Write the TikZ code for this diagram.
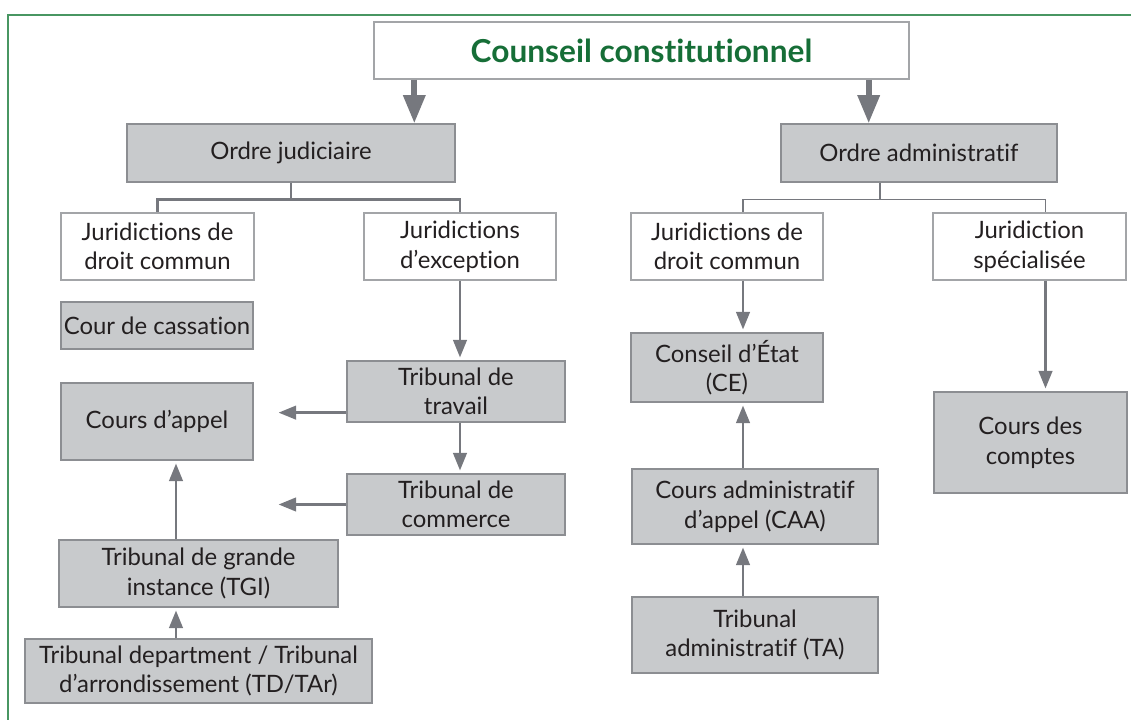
\documentclass[tikz,border=0pt]{standalone}
\usepackage{fontspec}
\setmainfont{Lato}[Ligatures={TeX,NoCommon}]
\usetikzlibrary{arrows.meta,calc}

\definecolor{vertcadre}{RGB}{72,150,98}
\definecolor{verttitre}{RGB}{22,110,55}
\definecolor{grisfond}{RGB}{200,202,204}
\definecolor{grisbord}{RGB}{140,142,146}
\definecolor{grisfleche}{RGB}{118,120,126}
\definecolor{texte}{RGB}{35,31,32}

\begin{document}
\begin{tikzpicture}[x=0.025cm, y=-0.025cm,
  every node/.style={font=\fontsize{17}{21}\selectfont, text=texte, align=center, inner sep=0pt},
  boite/.style={draw=grisbord, line width=0.9pt, fill=grisfond},
  blanche/.style={draw=grisbord!80, line width=0.9pt, fill=white},
  fleche/.style={draw=grisfleche, line width=2.1pt, -{Triangle[length=12.5pt,width=9.5pt]}, shorten >=2pt},
  grosse/.style={draw=grisfleche, line width=4.2pt, -{Triangle[length=20pt,width=15pt]}},
  branche/.style={draw=grisfleche, line width=2pt},
  fine/.style={draw=grisfleche, line width=0.8pt}]

  \useasboundingbox (0,0) rectangle (1131,720);

  % green frame (only top and left show)
  \draw[vertcadre, line width=1.2pt] (8,720) -- (8,15) -- (1131,15);

  % =========================
  % top
  % =========================
  \node[blanche, minimum width=13.375cm, minimum height=1.425cm,
        font=\fontsize{22.5}{26}\selectfont\bfseries, text=verttitre]
    (conseil) at (641.5,50.5) {Counseil constitutionnel};

  \node[boite, minimum width=8.2cm, minimum height=1.45cm] (ordrej) at (291,153) {Ordre judiciaire};
  \node[boite, minimum width=6.9cm, minimum height=1.45cm] (ordrea) at (919,153) {Ordre administratif};

  \coordinate (g1) at ([xshift=1.025cm]conseil.south west);
  \coordinate (g2) at ([xshift=-1.025cm]conseil.south east);
  \draw[grosse] (g1) -- (g1 |- ordrej.north);
  \draw[grosse] (g2) -- (g2 |- ordrea.north);

  % =========================
  % ordre judiciaire
  % =========================
  \node[blanche, minimum width=4.825cm, minimum height=1.675cm] (jdcj) at (157.5,246.5)
    {Juridictions de\\droit commun};
  \node[blanche, minimum width=4.8cm, minimum height=1.675cm] (jexc) at (460,246.5)
    {Juridictions\\d’exception};

  \draw[branche] (ordrej.south) -- ++(0,17) -| (jdcj.north);
  \draw[branche] (ordrej.south) -- ++(0,17) -| (jexc.north);

  \node[boite, minimum width=4.8cm, minimum height=1.175cm] (cass) at (157,325.5) {Cour de cassation};
  \node[boite, minimum width=4.8cm, minimum height=1.925cm] (appel) at (157,421.5) {Cours d’appel};
  \node[boite, minimum width=5.45cm, minimum height=1.525cm] (travail) at (456,391.5) {Tribunal de\\travail};
  \node[boite, minimum width=5.45cm, minimum height=1.525cm] (commerce) at (456,504.5) {Tribunal de\\commerce};
  \node[boite, minimum width=6.975cm, minimum height=1.675cm] (tgi) at (198.5,573.5)
    {Tribunal de grande\\instance (TGI)};
  \node[boite, minimum width=8.675cm, minimum height=1.6cm] (td) at (198.5,671)
    {Tribunal department / Tribunal\\d’arrondissement (TD/TAr)};

  \draw[fleche] (jexc.south) -- (jexc.south |- travail.north);
  \draw[fleche] (jexc.south |- travail.south) -- (jexc.south |- commerce.north);

  \coordinate (t1) at ([yshift=0.25cm]travail.south west);
  \draw[fleche] (t1) -- ([xshift=0.55cm]appel.east |- t1);
  \draw[fleche] (commerce.west) -- ([xshift=0.55cm]appel.east |- commerce.west);

  \coordinate (a1) at ([xshift=-0.5625cm]tgi.north);
  \draw[fleche] (a1) -- (a1 |- appel.south);
  \draw[fleche] (a1 |- td.north) -- (a1 |- tgi.south);

  % =========================
  % ordre administratif
  % =========================
  \node[blanche, minimum width=4.8cm, minimum height=1.675cm] (jdca) at (727,246.5)
    {Juridictions de\\droit commun};
  \node[blanche, minimum width=4.825cm, minimum height=1.675cm] (jspe) at (1029.5,246.5)
    {Juridiction\\spécialisée};

  \coordinate (ra) at ([xshift=-0.975cm]ordrea.south);
  \coordinate (d1) at ([xshift=0.4cm]jdca.north);
  \coordinate (d2) at ([xshift=0.4cm]jspe.north);
  \draw[fine] (ra) -- ++(0,17) -| (d1);
  \draw[fine] (ra) -- ++(0,17) -| (d2);

  \node[boite, minimum width=4.8cm, minimum height=1.725cm] (ce) at (727,367.5) {Conseil d’État\\(CE)};
  \node[boite, minimum width=6.15cm, minimum height=1.875cm] (caa) at (755,506.5)
    {Cours administratif\\d’appel (CAA)};
  \node[boite, minimum width=6.15cm, minimum height=1.9cm] (ta) at (755,635)
    {Tribunal\\administratif (TA)};
  \node[boite, minimum width=4.825cm, minimum height=2.525cm] (comptes) at (1030.5,442.5)
    {Cours des\\comptes};

  \draw[fleche] (d1 |- jdca.south) -- (d1 |- ce.north);
  \draw[fleche] (d1 |- caa.north) -- (d1 |- ce.south);
  \draw[fleche] (d1 |- ta.north) -- (d1 |- caa.south);
  \draw[fleche] (d2 |- jspe.south) -- (d2 |- comptes.north);

\end{tikzpicture}
\end{document}
